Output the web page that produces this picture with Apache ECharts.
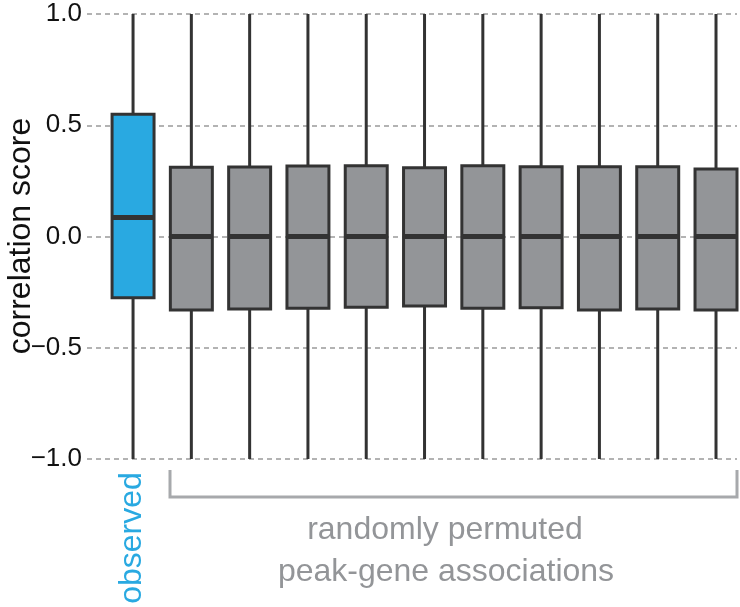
<!DOCTYPE html>
<html>
<head>
<meta charset="utf-8">
<script src="https://cdn.jsdelivr.net/npm/echarts@6/dist/echarts.min.js"></script>
<style>
html,body{margin:0;padding:0;background:#fff;}
#chart{width:740px;height:607px;}
</style>
</head>
<body>
<div id="chart"></div>
<script>
// ---- data ----
var categories = ['observed','perm 1','perm 2','perm 3','perm 4','perm 5','perm 6','perm 7','perm 8','perm 9','perm 10'];
var groups     = ['observed','permuted','permuted','permuted','permuted','permuted','permuted','permuted','permuted','permuted','permuted'];
var whiskerLow  = [-1, -1, -1, -1, -1, -1, -1, -1, -1, -1, -1];
var q1Values    = [-0.275, -0.330, -0.326, -0.323, -0.318, -0.312, -0.323, -0.320, -0.330, -0.326, -0.330];
var medianVals  = [0.085, 0, 0, 0, 0, 0, 0, 0, 0, 0, 0];
var q3Values    = [0.550, 0.311, 0.312, 0.317, 0.318, 0.309, 0.318, 0.314, 0.314, 0.314, 0.303];
var whiskerHigh = [1, 1, 1, 1, 1, 1, 1, 1, 1, 1, 1];
var yTicks = [-1.0, -0.5, 0.0, 0.5, 1.0];
var yTitle = 'correlation score';
var observedLabel = 'observed';
var permutedLabel = ['randomly permuted', 'peak-gene associations'];

// ---- styles ----
var FONT = '"Liberation Sans", Arial, Helvetica, sans-serif';
var fillByGroup = { observed: '#29a9e1', permuted: '#939598' };
var EDGE = '#333333';

var seriesData = categories.map(function (c, i) {
  return { name: c, value: [i, whiskerLow[i], q1Values[i], medianVals[i], q3Values[i], whiskerHigh[i]], group: groups[i] };
});

var chart = echarts.init(document.getElementById('chart'), null, { renderer: 'canvas' });

function fmt(v) {
  var s = Math.abs(v).toFixed(1);
  return v < 0 ? '\u2212' + s : s;
}

var option = {
  animation: false,
  backgroundColor: '#ffffff',
  grid: { left: 87, right: 3, top: 14, bottom: 148, containLabel: false, outerBoundsMode: 'none' },
  xAxis: {
    type: 'value',
    min: -0.79,
    max: 10.36,
    show: false,
    splitLine: { show: false }
  },
  yAxis: {
    type: 'value',
    min: yTicks[0],
    max: yTicks[yTicks.length - 1],
    interval: 0.5,
    axisLine: { show: false },
    axisTick: { show: false },
    axisLabel: {
      formatter: fmt,
      fontFamily: FONT,
      fontSize: 26,
      color: '#111',
      margin: 5
    },
    splitLine: {
      show: true,
      lineStyle: { color: '#9a9a9a', width: 1.5, type: [5, 4] }
    }
  },
  series: [{
    type: 'custom',
    data: seriesData,
    encode: { x: 0, y: [1, 2, 3, 4, 5] },
    clip: false,
    renderItem: function (params, api) {
      var x = api.value(0);
      var pMin = api.coord([x, api.value(1)]);
      var pQ1 = api.coord([x, api.value(2)]);
      var pMed = api.coord([x, api.value(3)]);
      var pQ3 = api.coord([x, api.value(4)]);
      var pMax = api.coord([x, api.value(5)]);
      var band = api.size([1, 0])[0];
      var half = band * 0.36;
      var fill = fillByGroup[seriesData[params.dataIndex].group];
      return {
        type: 'group',
        children: [
          { type: 'line', shape: { x1: pMin[0], y1: pMin[1], x2: pMax[0], y2: pMax[1] },
            style: { stroke: EDGE, lineWidth: 3 } },
          { type: 'rect', shape: { x: pQ3[0] - half, y: pQ3[1], width: 2 * half, height: pQ1[1] - pQ3[1] },
            style: { fill: fill, stroke: EDGE, lineWidth: 3 } },
          { type: 'line', shape: { x1: pMed[0] - half, y1: pMed[1], x2: pMed[0] + half, y2: pMed[1] },
            style: { stroke: EDGE, lineWidth: 5 } }
        ]
      };
    }
  }],
  graphic: [
    { type: 'text', x: 21, y: 236, rotation: Math.PI / 2,
      style: { text: yTitle, fill: '#111', font: '32px ' + FONT, textAlign: 'center', textVerticalAlign: 'middle' } },
    { type: 'text', x: 132, y: 538, rotation: Math.PI / 2,
      style: { text: observedLabel, fill: '#29a9e1', font: '32px ' + FONT, textAlign: 'center', textVerticalAlign: 'middle' } },
    { type: 'polyline', shape: { points: [[170, 470], [170, 497], [737, 497], [737, 470]] },
      style: { stroke: '#a7a9ac', lineWidth: 3, fill: null } },
    { type: 'text', x: 445, y: 530,
      style: { text: permutedLabel[0], fill: '#939598', font: '32px ' + FONT, textAlign: 'center', textVerticalAlign: 'middle' } },
    { type: 'text', x: 446, y: 572,
      style: { text: permutedLabel[1], fill: '#939598', font: '32px ' + FONT, textAlign: 'center', textVerticalAlign: 'middle' } }
  ]
};
chart.setOption(option);
</script>
</body>
</html>
